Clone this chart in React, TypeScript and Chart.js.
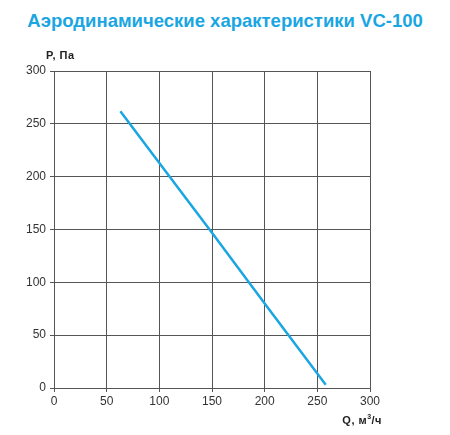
import { useEffect, useRef } from 'react'
import Chart from 'chart.js/auto'

const qValues = [63, 100, 150, 200, 258]
const pValues = [262, 213, 147, 80, 3]
const xTicks = [0, 50, 100, 150, 200, 250, 300]
const yTicks = [0, 50, 100, 150, 200, 250, 300]

const BLUE = '#1aa6e2'
const GRID = '#555555'
const TICK = '#333333'
const FONT = '"Liberation Sans", Arial, sans-serif'

export default function App() {
  const ref = useRef<HTMLCanvasElement>(null)

  useEffect(() => {
    if (!ref.current) return
    const chart = new Chart(ref.current, {
      type: 'scatter',
      data: {
        datasets: [
          {
            data: qValues.map((q, i) => ({ x: q, y: pValues[i] })),
            showLine: true,
            borderColor: BLUE,
            backgroundColor: BLUE,
            borderWidth: 2.5,
            pointRadius: 0,
            tension: 0,
          },
        ],
      },
      options: {
        responsive: false,
        animation: false,
        devicePixelRatio: 1,
        layout: { padding: { top: 71, right: 80, bottom: 0, left: 0 } },
        plugins: { legend: { display: false }, tooltip: { enabled: false }, title: { display: false } },
        scales: {
          x: {
            type: 'linear',
            min: xTicks[0],
            max: xTicks[xTicks.length - 1],
            afterBuildTicks: (s) => { s.ticks = xTicks.map((v) => ({ value: v })) },
            afterFit: (s) => { s.height = 47 },
            grid: { color: GRID, lineWidth: 1, tickLength: 4 },
            border: { color: GRID, width: 1 },
            ticks: { color: TICK, font: { family: FONT, size: 12 }, padding: 2, maxRotation: 0 },
          },
          y: {
            type: 'linear',
            min: yTicks[0],
            max: yTicks[yTicks.length - 1],
            afterBuildTicks: (s) => { s.ticks = yTicks.map((v) => ({ value: v })) },
            afterFit: (s) => { s.width = 54 },
            grid: { color: GRID, lineWidth: 1, tickLength: 4 },
            border: { color: GRID, width: 1 },
            ticks: { color: TICK, font: { family: FONT, size: 12 }, padding: 4 },
          },
        },
      },
    })
    return () => chart.destroy()
  }, [])

  return (
    <div style={{ position: 'fixed', left: 0, top: 0, width: 450, height: 435, background: '#fff', fontFamily: FONT }}>
      <div style={{ position: 'absolute', left: 0, top: 12, width: 450, textAlign: 'center', fontSize: 18.5, lineHeight: '18px', fontWeight: 700, color: BLUE }}>
        Аэродинамические характеристики VC-100
      </div>
      <canvas ref={ref} width={450} height={435} style={{ position: 'absolute', left: 0, top: 0 }} />
      <div style={{ position: 'absolute', left: 46, top: 50, fontSize: 11, lineHeight: '11px', letterSpacing: 0.5, fontWeight: 700, color: '#222' }}>
        P, Па
      </div>
      <div style={{ position: 'absolute', right: 68, top: 415, fontSize: 11, lineHeight: '11px', letterSpacing: 0.5, fontWeight: 700, color: '#222' }}>
        Q, м<sup style={{ fontSize: 7, lineHeight: 0 }}>3</sup>/ч
      </div>
    </div>
  )
}
